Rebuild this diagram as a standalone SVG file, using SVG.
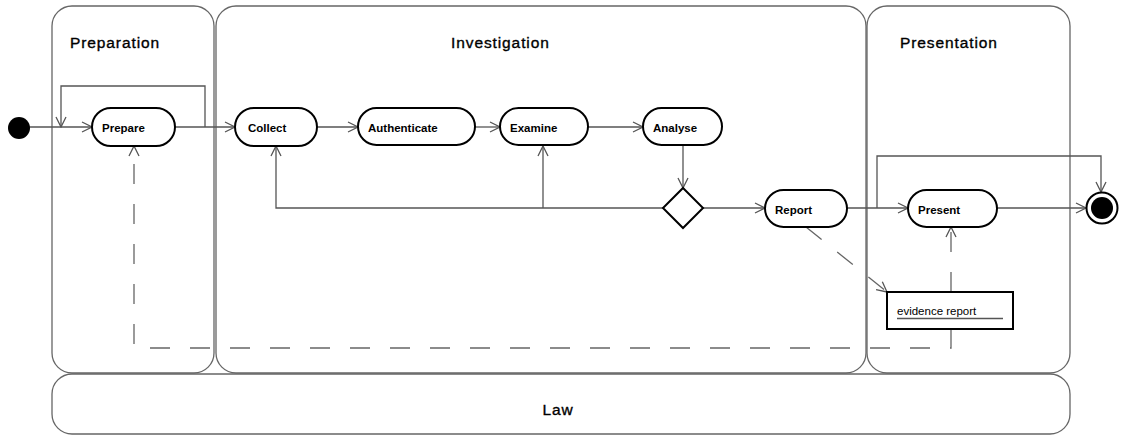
<svg xmlns="http://www.w3.org/2000/svg" width="1125" height="435" viewBox="0 0 1125 435">
<style>
.panel{fill:#fff;stroke:#666;stroke-width:1.3}
.title{font-family:"Liberation Sans",Arial,sans-serif;font-size:15.5px;letter-spacing:0.9px;fill:#000;stroke:#000;stroke-width:0.35}
.act{fill:#fff;stroke:#000;stroke-width:2}
.lbl{font-family:"Liberation Sans",Arial,sans-serif;font-size:11.5px;font-weight:bold;fill:#000}
.c{fill:none;stroke:#555;stroke-width:1.3}
.d{fill:none;stroke:#666;stroke-width:1.3;stroke-dasharray:20 20}
</style>
<defs>
<marker id="ah" markerWidth="12" markerHeight="12" refX="11" refY="6" orient="auto" markerUnits="userSpaceOnUse">
<path d="M1,1 L11,6 L1,11" fill="none" stroke="#555" stroke-width="1.3"/>
</marker>
</defs>
<rect width="1125" height="435" fill="#fff"/>
<g id="lane-law"><rect class="panel" x="52" y="374" width="1018" height="60" rx="20"/><text class="title" x="558" y="415" text-anchor="middle">Law</text></g>
<g id="lane-preparation"><rect class="panel" x="52" y="6" width="162" height="367" rx="20"/><text class="title" x="70" y="48">Preparation</text></g>
<g id="lane-investigation"><rect class="panel" x="216" y="6" width="650" height="367" rx="20"/><text class="title" x="451" y="48">Investigation</text></g>
<g id="lane-presentation"><rect class="panel" x="867" y="6" width="203" height="367" rx="20"/><text class="title" x="900" y="48">Presentation</text></g>
<g id="connectors">
<path class="c" d="M30,127 H92" marker-end="url(#ah)"/>
<path class="c" d="M205,127 V86 H61 V127" marker-end="url(#ah)"/>
<path class="c" d="M175,127 H235" marker-end="url(#ah)"/>
<path class="c" d="M317,127 H358" marker-end="url(#ah)"/>
<path class="c" d="M475,127 H500" marker-end="url(#ah)"/>
<path class="c" d="M588,127 H643" marker-end="url(#ah)"/>
<path class="c" d="M683,146 V188" marker-end="url(#ah)"/>
<path class="c" d="M663,208 H276 V146" marker-end="url(#ah)"/>
<path class="c" d="M543,208 V146" marker-end="url(#ah)"/>
<path class="c" d="M703,208 H765" marker-end="url(#ah)"/>
<path class="c" d="M847,208 H908" marker-end="url(#ah)"/>
<path class="c" d="M877,208 V156 H1101 V192" marker-end="url(#ah)"/>
<path class="c" d="M997,208 H1086" marker-end="url(#ah)"/>
<path class="d" d="M806,227 L887,292" marker-end="url(#ah)"/>
<path class="d" d="M951,292 V227" marker-end="url(#ah)"/>
<path class="d" d="M951,329 V348 H134 V146" marker-end="url(#ah)"/>
</g>
<g id="initial"><circle cx="19" cy="128" r="11" fill="#000"/></g>
<g id="prepare"><rect class="act" x="92" y="108" width="83" height="38" rx="19"/><text class="lbl" x="102" y="132">Prepare</text></g>
<g id="collect"><rect class="act" x="235" y="108" width="82" height="38" rx="19"/><text class="lbl" x="248" y="132">Collect</text></g>
<g id="authenticate"><rect class="act" x="358" y="108" width="117" height="37" rx="18.5"/><text class="lbl" x="368" y="132">Authenticate</text></g>
<g id="examine"><rect class="act" x="500" y="108" width="88" height="37" rx="18.5"/><text class="lbl" x="510" y="132">Examine</text></g>
<g id="analyse"><rect class="act" x="643" y="108" width="79" height="37" rx="18.5"/><text class="lbl" x="653" y="132">Analyse</text></g>
<g id="decision"><path class="act" d="M683,188 L703,208 L683,228 L663,208 Z"/></g>
<g id="report"><rect class="act" x="765" y="190" width="82" height="37" rx="18.5"/><text class="lbl" x="775" y="214">Report</text></g>
<g id="present"><rect class="act" x="908" y="190" width="89" height="37" rx="18.5"/><text class="lbl" x="918" y="214">Present</text></g>
<g id="final"><circle cx="1102" cy="208" r="15.5" fill="#fff" stroke="#000" stroke-width="2"/><circle cx="1102" cy="208" r="11" fill="#000"/></g>
<g id="evidence-report"><rect x="887" y="292" width="126" height="37" fill="#fff" stroke="#000" stroke-width="2"/><text x="897" y="315" font-family="Liberation Sans,Arial,sans-serif" font-size="11.5" fill="#000">evidence report</text><line x1="897" y1="318.5" x2="1003" y2="318.5" stroke="#555" stroke-width="1.3"/></g>
</svg>
